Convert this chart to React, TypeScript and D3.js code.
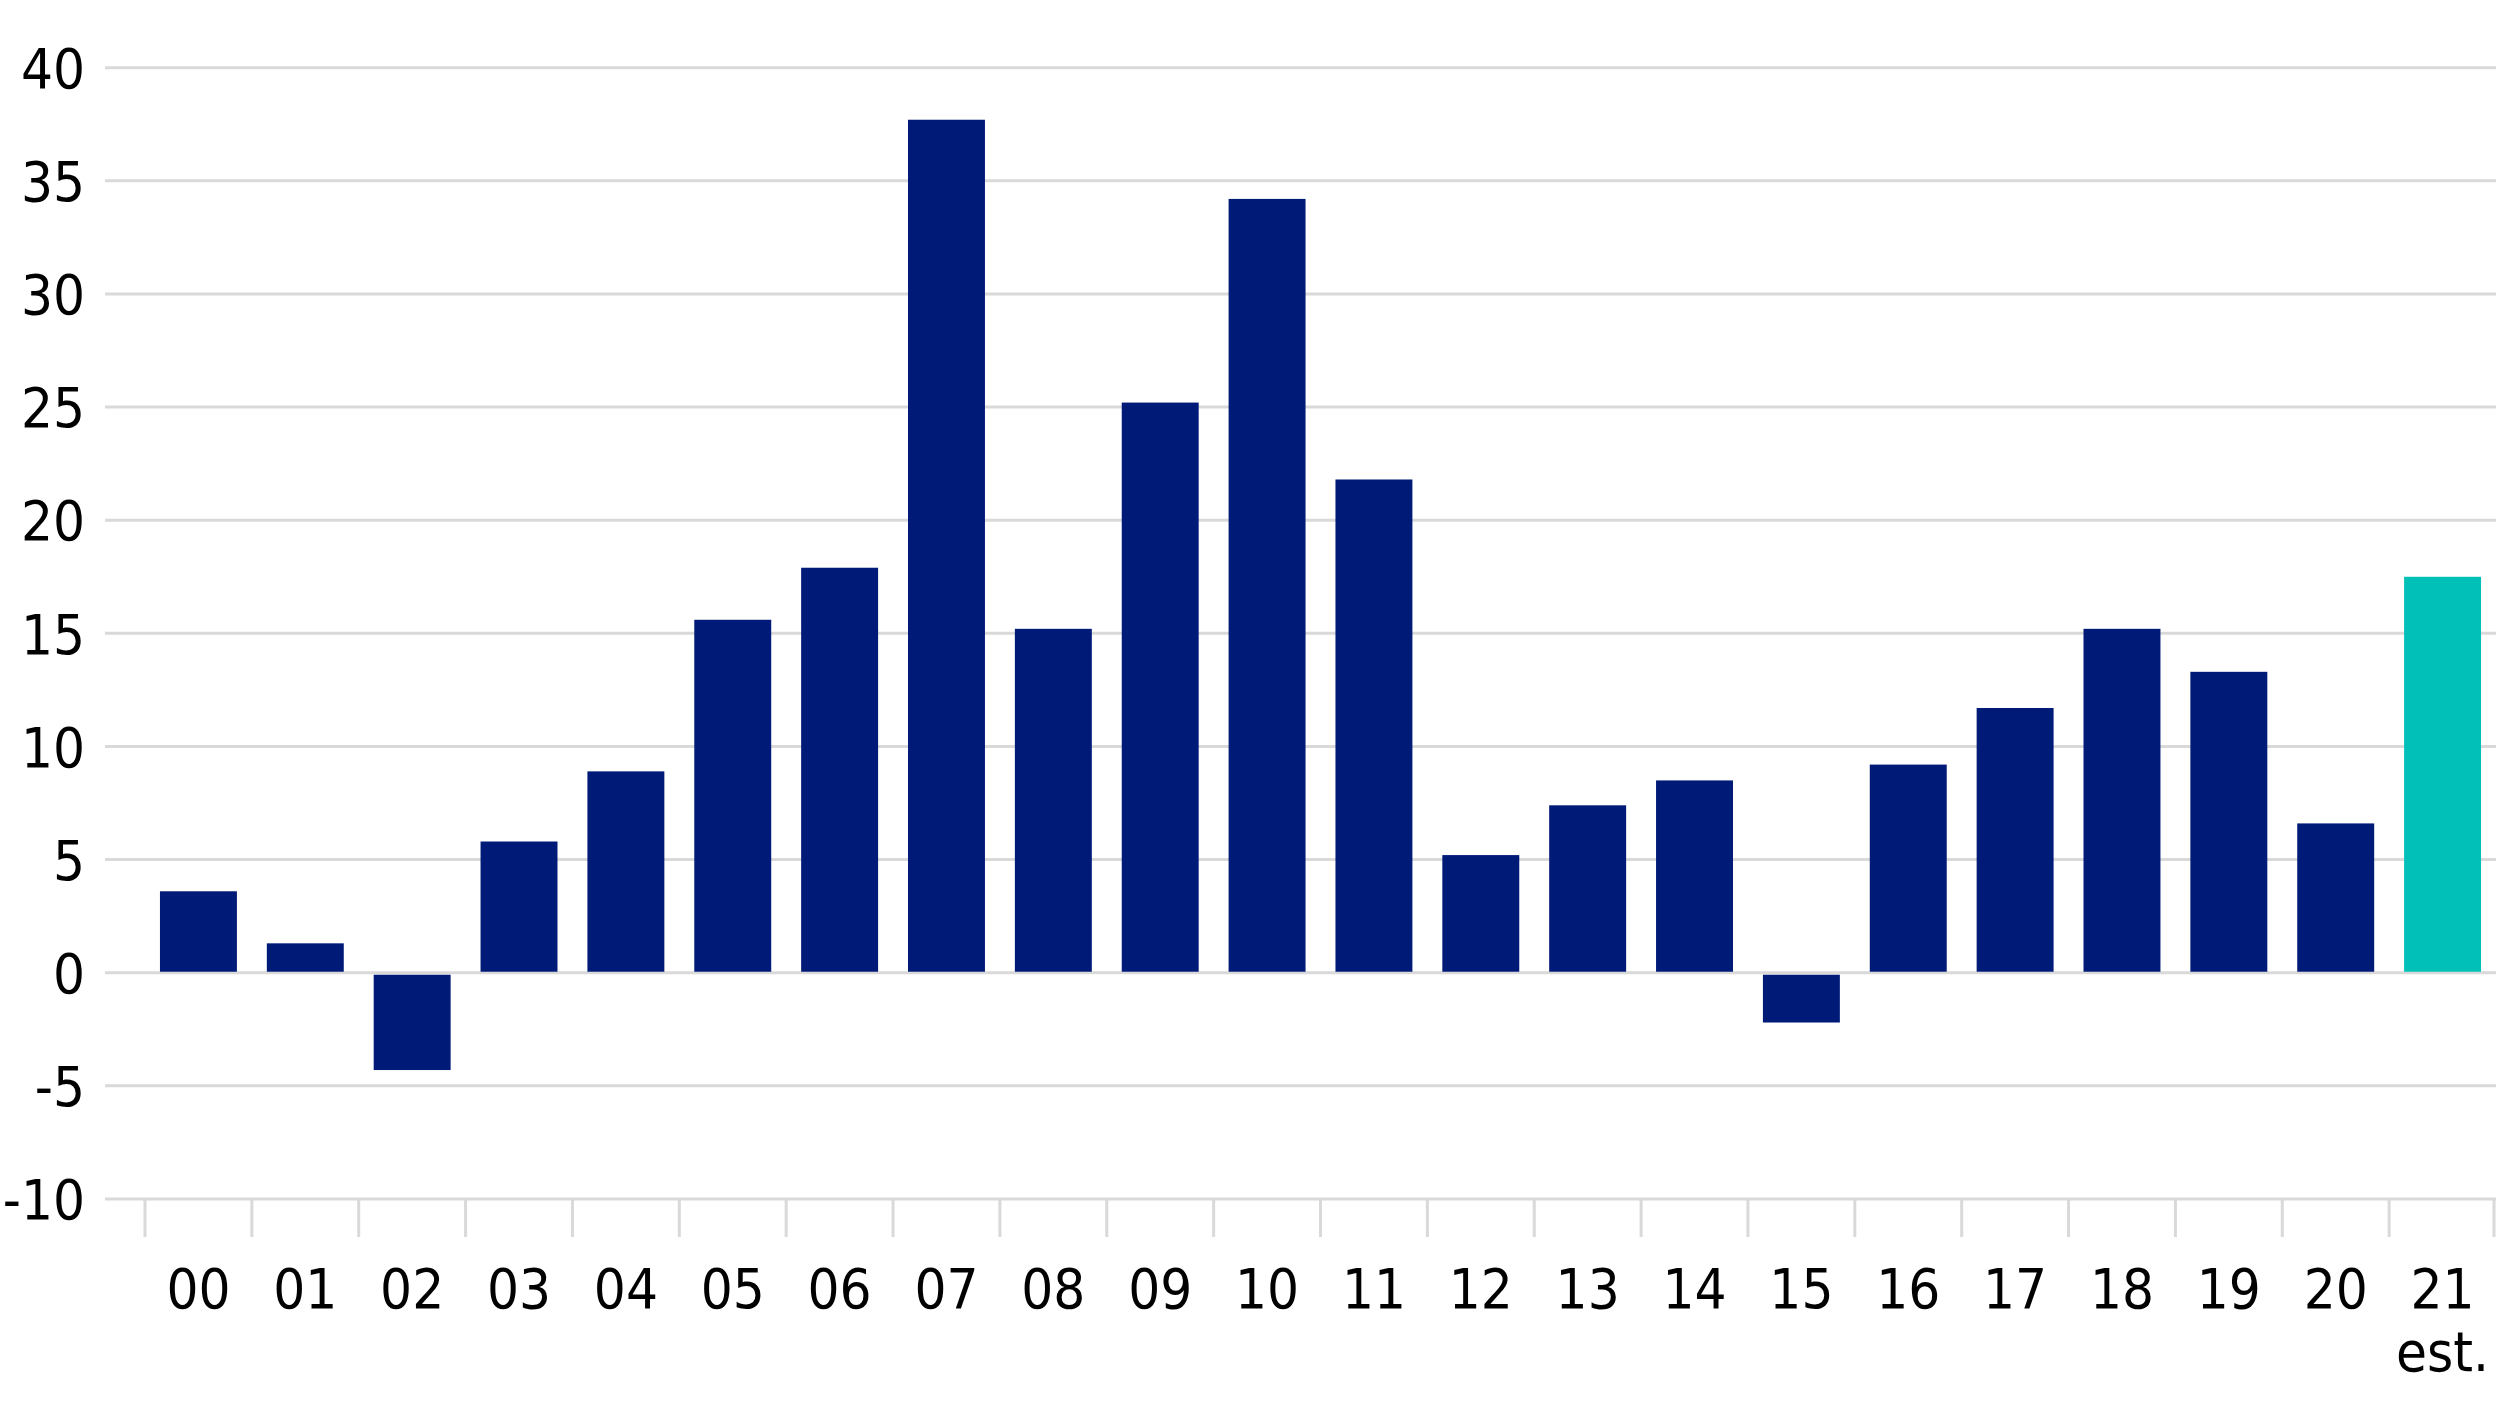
import React from "react";
import * as d3 from "d3";

const categories = ["00","01","02","03","04","05","06","07","08","09","10","11","12","13","14","15","16","17","18","19","20","21"];
const values = [3.6,1.3,-4.3,5.8,8.9,15.6,17.9,37.7,15.2,25.2,34.2,21.8,5.2,7.4,8.5,-2.2,9.2,11.7,15.2,13.3,6.6,17.5];
const estimateCategories = ["21"];
const yTicks = [-10,-5,0,5,10,15,20,25,30,35,40];

const W = 2496;
const H = 1404;
const FONT = "'DejaVu Sans Condensed', 'DejaVu Sans', Verdana, sans-serif";
const FS = 56;

export default function App() {
  const x = d3.scaleBand<string>().domain(categories).range([145, 2496]).paddingInner(0.28).paddingOuter(0.14);
  const y = d3.scaleLinear().domain([-10, 40]).range([1199, 67.7]);
  const step = x.step();
  const gridLeft = 105;
  const navy = "#001A77";
  const teal = "#00C0B8";
  const grid = "#D9D9D9";
  const textStyle = { fontStretch: "condensed" as const };
  return (
    <div style={{ position: "absolute", left: 0, top: 0 }}>
      <svg width={W} height={H} style={{ display: "block", background: "#fff" }}>
        {yTicks.map((t) => (
          <g key={t}>
            <line x1={gridLeft} x2={W} y1={y(t)} y2={y(t)} stroke={grid} strokeWidth={3} />
            <text x={85} y={y(t)} dy="0.36em" textAnchor="end" fontFamily={FONT} fontSize={FS} fill="#000" style={textStyle}>
              {t}
            </text>
          </g>
        ))}
        {categories.map((c, i) => (
          <line key={"tk" + c} x1={145 + i * step} x2={145 + i * step} y1={y(-10)} y2={1237} stroke={grid} strokeWidth={3} />
        ))}
        <line x1={W - 2} x2={W - 2} y1={y(-10)} y2={1237} stroke={grid} strokeWidth={3} />
        {categories.map((c, i) => {
          const v = values[i];
          const top = v >= 0 ? y(v) : y(0) + 2;
          const bottom = v >= 0 ? y(0) - 1 : y(v);
          return (
            <rect key={"b" + c} x={x(c)} y={top} width={x.bandwidth()} height={bottom - top}
              fill={estimateCategories.includes(c) ? teal : navy} />
          );
        })}
        {categories.map((c) => (
          <text key={"l" + c} x={(x(c) as number) + x.bandwidth() / 2} y={1308} textAnchor="middle" fontFamily={FONT} fontSize={FS} fill="#000" style={textStyle}>
            {c}
          </text>
        ))}
        {estimateCategories.map((c) => (
          <text key={"e" + c} x={(x(c) as number) + x.bandwidth() / 2} y={1371} textAnchor="middle" fontFamily={FONT} fontSize={FS} fill="#000" style={textStyle}>
            est.
          </text>
        ))}
      </svg>
    </div>
  );
}
